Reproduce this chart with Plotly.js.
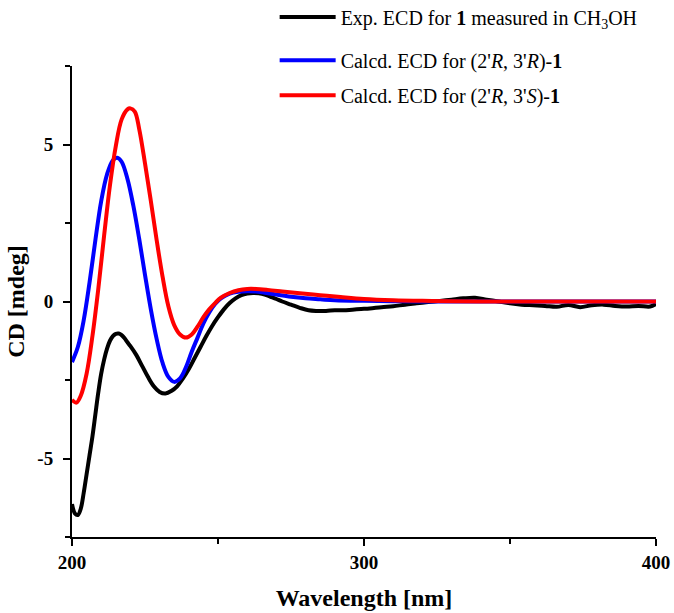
<!DOCTYPE html>
<html>
<head>
<meta charset="utf-8">
<script src="https://cdn.plot.ly/plotly-3.0.1.min.js"></script>
<style>html,body{margin:0;padding:0;background:#fff;}#chart{width:674px;height:613px;}</style>
</head>
<body>
<div id="chart"></div>
<script>
// Experimental ECD (black)
var expX = [200,201,202,203,204,205,206,207,208,209,210,211,212,213,214,215,216,217,218,219,220,222,224,226,228,230,232,234,236,238,240,242,244,246,248,250,252,254,256,258,260,262,264,266,268,270,272,275,278,281,284,287,290,293,296,299,302,306,310,314,318,322,326,330,334,338,342,346,350,354,358,362,366,370,374,378,382,386,390,394,398,400];
var expY = [-6.45,-6.75,-6.8,-6.6,-6.1,-5.5,-4.9,-4.3,-3.6,-2.9,-2.3,-1.85,-1.5,-1.25,-1.1,-1.03,-1.02,-1.07,-1.17,-1.3,-1.42,-1.7,-2.05,-2.4,-2.7,-2.88,-2.93,-2.85,-2.7,-2.45,-2.15,-1.8,-1.45,-1.1,-0.78,-0.5,-0.25,-0.05,0.1,0.2,0.25,0.27,0.26,0.22,0.15,0.08,0.0,-0.1,-0.2,-0.28,-0.3,-0.3,-0.28,-0.28,-0.26,-0.24,-0.22,-0.18,-0.15,-0.1,-0.06,-0.02,0.02,0.06,0.1,0.12,0.06,0.0,-0.06,-0.1,-0.12,-0.14,-0.17,-0.11,-0.18,-0.12,-0.1,-0.14,-0.16,-0.14,-0.16,-0.08];

// Calcd. ECD (2'R,3'R) (blue)
var rrX = [200,202,204,206,208,210,212,214,215.5,217,219,221,223,225,227,229,231,233,235,237,239,241,243,245,247,249,251,254,257,260,263,266,270,275,280,285,290,300,310,320,340,360,380,400];
var rrY = [-1.93,-1.45,-0.6,0.6,1.95,3.2,4.05,4.5,4.58,4.45,3.9,3.05,2.0,0.85,-0.25,-1.2,-1.95,-2.4,-2.56,-2.45,-2.1,-1.6,-1.15,-0.7,-0.35,-0.08,0.1,0.25,0.31,0.33,0.32,0.28,0.22,0.15,0.1,0.07,0.04,0.02,0.01,0.0,0.0,0.0,0.0,0.0];

// Calcd. ECD (2'R,3'S) (red)
var rsX = [200,201.5,203,205,207,209,211,213,215,217,219,220,221.5,223,225,227,229,231,233,235,237,239,241,243,245,247,249,251,254,257,260,263,267,272,278,285,292,300,310,320,330,345,360,380,400];
var rsY = [-3.13,-3.22,-3.0,-2.3,-1.1,0.4,2.1,3.7,4.95,5.8,6.12,6.15,6.05,5.5,4.4,3.2,1.95,0.8,-0.15,-0.75,-1.05,-1.15,-1.05,-0.8,-0.5,-0.25,-0.05,0.12,0.27,0.36,0.4,0.4,0.37,0.32,0.26,0.2,0.14,0.08,0.04,0.02,0.01,0.0,0.0,0.0,0.0];

var seriesNames = [
  "Exp. ECD for <b>1</b> measured in CH<sub>3</sub>OH",
  "Calcd. ECD for (2'<i>R</i>, 3'<i>R</i>)-<b>1</b>",
  "Calcd. ECD for (2'<i>R</i>, 3'<i>S</i>)-<b>1</b>"
];
var xTickVals = [200, 300, 400];
var xTickText = ["200", "300", "400"];
var yTickVals = [-5, 0, 5];
var yTickText = ["-5", "0", "5"];

var FONT = "Liberation Serif, Times New Roman, serif";

var traces = [
  {x: expX, y: expY, name: seriesNames[0], legend: 'legend', mode: 'lines', line: {color: '#000000', width: 4, shape: 'spline'}},
  {x: rrX, y: rrY, name: seriesNames[1], legend: 'legend2', mode: 'lines', line: {color: '#0000ff', width: 4, shape: 'spline'}},
  {x: rsX, y: rsY, name: seriesNames[2], legend: 'legend3', mode: 'lines', line: {color: '#ff0000', width: 4, shape: 'spline'}}
];

function legendAt(yPaper) {
  return {
    x: 0.347, y: yPaper, xanchor: 'left', yanchor: 'middle',
    bgcolor: 'rgba(0,0,0,0)', borderwidth: 0,
    font: {family: FONT, size: 20, color: '#000000'},
    itemwidth: 56
  };
}

var layout = {
  width: 674, height: 613,
  margin: {l: 72, r: 18, t: 66, b: 76, autoexpand: false},
  paper_bgcolor: '#ffffff', plot_bgcolor: '#ffffff',
  font: {family: FONT, color: '#000000'},
  showlegend: true,
  legend: legendAt(1.104),
  legend2: legendAt(1.012),
  legend3: legendAt(0.938),
  xaxis: {
    range: [200, 400], showline: true, linecolor: '#000', linewidth: 2,
    showgrid: false, zeroline: false, mirror: false,
    ticks: 'outside', ticklen: 7, tickwidth: 2, tickcolor: '#000',
    tickvals: xTickVals, ticktext: xTickText,
    tickfont: {family: FONT, size: 19, weight: 'bold'},
    minor: {dtick: 50, tick0: 200, ticks: 'outside', ticklen: 5, tickwidth: 2, tickcolor: '#000', showgrid: false},
    title: {text: 'Wavelength [nm]', font: {family: FONT, size: 24, weight: 'bold'}, standoff: 17},
    automargin: false
  },
  yaxis: {
    range: [-7.5, 7.5], showline: true, linecolor: '#000', linewidth: 2,
    showgrid: false, zeroline: false, mirror: false,
    ticks: 'outside', ticklen: 7, tickwidth: 2, tickcolor: '#000',
    tickvals: yTickVals, ticktext: yTickText, ticklabelstandoff: 6,
    tickfont: {family: FONT, size: 19, weight: 'bold'},
    minor: {dtick: 2.5, tick0: 0, ticks: 'outside', ticklen: 5, tickwidth: 2, tickcolor: '#000', showgrid: false},
    title: {text: 'CD [mdeg]', font: {family: FONT, size: 24, weight: 'bold'}, standoff: 6},
    automargin: false
  }
};

Plotly.newPlot('chart', traces, layout, {displayModeBar: false, staticPlot: true});
</script>
</body>
</html>
